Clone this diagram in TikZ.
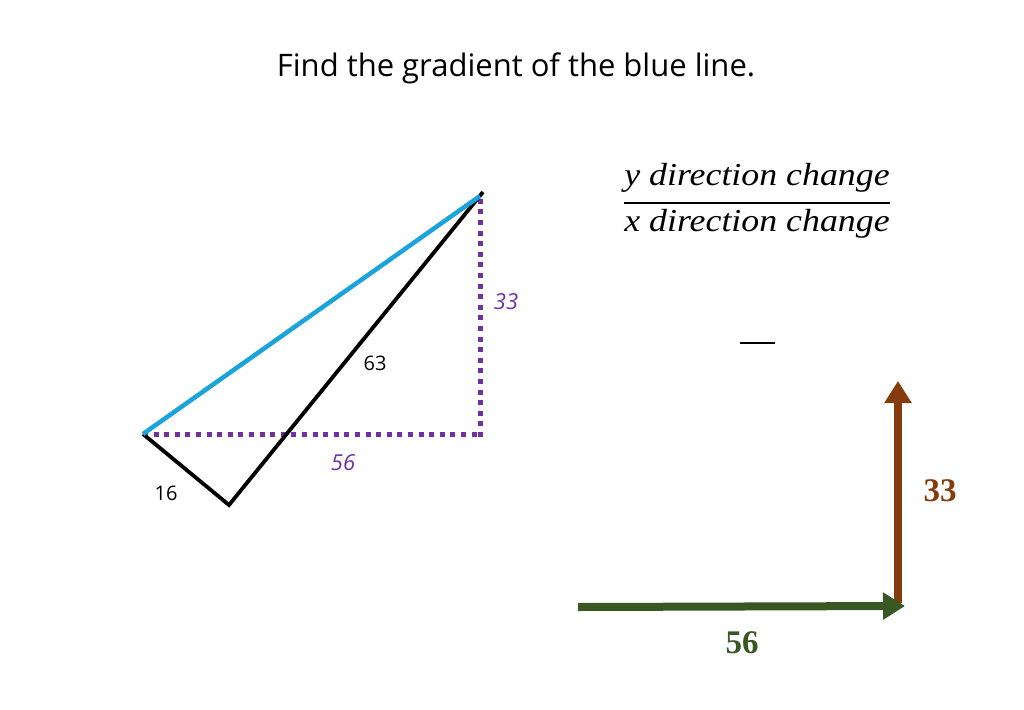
\documentclass[tikz,border=0pt]{standalone}
\usepackage{fontspec}
\setmainfont{Open Sans}
\newfontfamily\serifit{Liberation Serif}
\usetikzlibrary{arrows.meta}
\definecolor{blueline}{RGB}{27,163,220}
\definecolor{purp}{RGB}{112,48,160}
\definecolor{brownar}{RGB}{132,60,12}
\definecolor{greenar}{RGB}{56,87,35}
\tikzset{
  dotline/.style={purp, line width=5pt, dash pattern=on 5pt off 5.6pt},
  blk/.style={black, line width=3.8pt},
  lbl/.style={font=\fontsize{20}{24}\selectfont, inner sep=0pt},
  plbl/.style={lbl, purp, font=\fontsize{22}{26}\selectfont\itshape},
  bignum/.style={inner sep=0pt, font=\serifit\bfseries\fontsize{33}{36}\selectfont},
  fr/.style={inner sep=0pt, font=\serifit\itshape\fontsize{32}{36}\selectfont},
  bigarrow/.style={line width=8pt, -{Triangle[length=22pt,width=26pt]}}
}
\begin{document}
\begin{tikzpicture}[x=1pt,y=-1pt]
\useasboundingbox (0,0) rectangle (1024,709);
\fill[white] (0,0) rectangle (1024,709);
\node[inner sep=0pt, font=\fontsize{31}{35}\selectfont] (title) at (516,68) {Find the gradient of the blue line.};
% triangle
\coordinate (L) at (143,434);
\coordinate (B) at (229,505);
\coordinate (T) at (480,196);
\coordinate (R) at (480,437);
\coordinate (Ttip) at (483,192);
\draw[dotline] (L) -- (480,434);
\draw[dotline] (R) -- (T);
\draw[blk, line join=miter] (L) -- (B) -- (Ttip);
\draw[blueline, line width=4.5pt] (L) -- (T);
\node[plbl] (l33) at (506,302) {33};
\node[plbl] (l56) at (343,463) {56};
\node[lbl] (l63) at (375,363) {63};
\node[lbl] (l16) at (166,493) {16};
% fraction
\node[fr] (num) at (757,178) {\scalebox{1.12}[1]{y direction change}};
\node[fr] (den) at (757,224) {\scalebox{1.12}[1]{x direction change}};
\draw[line width=2pt] (624,203) -- (890,203);
\coordinate (d1) at (740,343);
\coordinate (d2) at (775,343);
\draw[line width=2pt] (d1) -- (d2);
% arrows
\coordinate (G0) at (578,607);
\coordinate (G1) at (905,606);
\coordinate (V0) at (898,603);
\coordinate (V1) at (898,381);
\draw[bigarrow, brownar] (V0) -- (V1);
\draw[bigarrow, greenar] (G0) -- (G1);
\node[bignum, brownar] (b33) at (940,491) {33};
\node[bignum, greenar] (g56) at (742,643) {56};
\end{tikzpicture}
\end{document}
